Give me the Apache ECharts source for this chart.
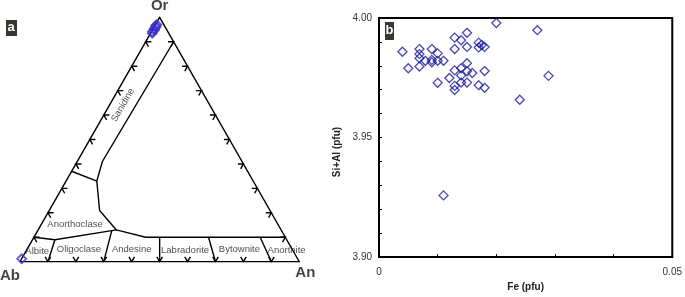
<!DOCTYPE html>
<html><head><meta charset="utf-8">
<script src="https://cdn.jsdelivr.net/npm/echarts@6/dist/echarts.min.js"></script>
<style>html,body{margin:0;padding:0;background:#fff}#c{width:685px;height:297px}</style>
</head><body><div id="c"></div>
<script>
// ---------- Panel a: feldspar ternary, points as [An %, Or %] ----------
const tickPercents = [10, 20, 30, 40, 50, 60, 70, 80, 90];
const triangleOutline = [[0, 0], [100, 0], [0, 100], [0, 0]];
const plagTopBoundary = [[0, 10], [8, 9], [26.5, 12.7], [28, 13], [40, 10], [90, 10]];
const sanidineBoundary = [[10, 90], [9, 41], [11, 33], [18, 21], [28, 13]];
const anorthoclaseSanidine = [[0, 37], [11, 33]];
const plagDividers = [
  [[8, 9], [10, 0]],
  [[26.5, 12.7], [30, 0]],
  [[45, 10], [50, 0]],
  [[62.5, 10], [70, 0]],
  [[81, 10], [90, 0]]
];
const fieldNames = ['Sanidine', 'Anorthoclase', 'Albite', 'Oligoclase', 'Andesine', 'Labradorite', 'Bytownite', 'Anorthite'];
const fieldPos = [[4.8, 64.1], [12, 15.4], [4.1, 4.1], [18.5, 5.2], [37.4, 5.2], [56.7, 4.8], [76, 5.1], [93.2, 4.5]];
const vertexNames = ['Ab', 'An', 'Or'];
const vertexPos = [[0, 0], [100, 0], [0, 100]];
const feldsparAn = [0.6, 0.3, 0.8, 0.4, 0.7, 0.3, 0.5, 0.0];
const feldsparOr = [93.5, 94.2, 94.8, 95.3, 95.9, 96.5, 97.0, 1.2];

// ---------- Panel b: Fe vs Si+Al ----------
const fe = [0.0040,0.0050,0.0069,0.0069,0.0069,0.0069,0.0079,0.0090,0.0090,0.0090,0.0100,0.0100,0.0110,0.0100,0.0120,0.0129,0.0140,0.0150,0.0129,0.0150,0.0129,0.0140,0.0150,0.0140,0.0150,0.0159,0.0129,0.0129,0.0140,0.0150,0.0170,0.0170,0.0180,0.0180,0.0170,0.0180,0.0200,0.0270,0.0289,0.0240,0.0110,0.0175];
const siAl = [3.9859,3.9790,3.9870,3.9849,3.9832,3.9797,3.9821,3.9870,3.9825,3.9815,3.9852,3.9821,3.9821,3.9729,3.9749,3.9918,3.9907,3.9938,3.9870,3.9879,3.9781,3.9790,3.9811,3.9760,3.9777,3.9770,3.9716,3.9699,3.9730,3.9730,3.9897,3.9877,3.9879,3.9778,3.9719,3.9708,3.9979,3.9949,3.9758,3.9658,3.9258,3.9887];

const FONT = 'Arial, "Liberation Sans", sans-serif';
const toXY = p => [(p[0] + p[1] / 2) / 100, p[1] / 100];

// tick chevrons
const d = 2;
const ticks = [];
tickPercents.forEach(p => {
  ticks.push([[p - d, d], [p, 0], [p, d]]);                 // bottom edge
  ticks.push([[d, p], [0, p], [d, p - d]]);                 // left edge
  ticks.push([[100 - p - d, p], [100 - p, p], [100 - p, p - d]]); // right edge
});
const polylines = [triangleOutline, plagTopBoundary, sanidineBoundary, anorthoclaseSanidine]
  .concat(plagDividers).concat(ticks);

const chart = echarts.init(document.getElementById('c'), null, {renderer: 'canvas'});
chart.setOption({
  animation: false,
  textStyle: {fontFamily: FONT},
  grid: [
    {left: 20, top: 17.3, width: 279.3, height: 244.4, show: false},
    {left: 379, top: 18, width: 295, height: 244, show: true, borderColor: '#000', borderWidth: 2, backgroundColor: 'transparent'}
  ],
  xAxis: [
    {gridIndex: 0, type: 'value', min: 0, max: 1, show: false},
    {gridIndex: 1, type: 'value', min: 0, max: 0.05, interval: 0.01,
     axisLine: {show: true, lineStyle: {color: '#000', width: 2}},
     axisTick: {show: true, inside: true, length: 3, lineStyle: {color: '#000', width: 1}},
     splitLine: {show: false},
     axisLabel: {color: '#333', fontSize: 10, margin: 10, fontFamily: FONT,
       formatter: v => (Math.abs(v) < 1e-9 ? '0' : (Math.abs(v - 0.05) < 1e-9 ? '0.05' : ''))},
     name: 'Fe (pfu)', nameLocation: 'middle', nameGap: 24,
     nameTextStyle: {fontWeight: 'bold', fontSize: 10, color: '#222', fontFamily: FONT}}
  ],
  yAxis: [
    {gridIndex: 0, type: 'value', min: 0, max: 1, show: false},
    {gridIndex: 1, type: 'value', min: 3.9, max: 4.0, interval: 0.01,
     axisLine: {show: true, lineStyle: {color: '#000', width: 2}},
     axisTick: {show: true, inside: true, length: 3, lineStyle: {color: '#000', width: 1}},
     splitLine: {show: false},
     axisLabel: {color: '#333', fontSize: 10, margin: 7, fontFamily: FONT,
       formatter: v => (Math.round(v * 100) % 5 === 0 ? v.toFixed(2) : '')}}
  ],
  graphic: [
    {type: 'rect', left: 6, top: 20, shape: {width: 11, height: 16}, style: {fill: '#3a3631'}, z: 10},
    {type: 'text', left: 7.5, top: 20.5, style: {text: 'a', fill: '#fff', font: 'bold 13px ' + FONT}, z: 11},
    {type: 'rect', left: 385, top: 22, shape: {width: 9, height: 18}, style: {fill: '#3a3631'}, z: 10},
    {type: 'text', left: 385.5, top: 23.5, style: {text: 'b', fill: '#fff', font: 'bold 13px ' + FONT}, z: 11},
    {type: 'text', x: 337, y: 152, rotation: Math.PI / 2,
     style: {text: 'Si+Al (pfu)', fill: '#222', font: 'bold 10px ' + FONT, align: 'center', verticalAlign: 'middle'}}
  ],
  series: [
    {type: 'lines', coordinateSystem: 'cartesian2d', xAxisIndex: 0, yAxisIndex: 0, polyline: true,
     silent: true, lineStyle: {color: '#000', width: 1.4, opacity: 1},
     data: polylines.map(pl => ({coords: pl.map(toXY)}))},
    {type: 'scatter', xAxisIndex: 0, yAxisIndex: 0, clip: false, symbolSize: 1,
     itemStyle: {color: 'rgba(0,0,0,0)'},
     label: {show: true, position: 'inside', formatter: '{b}', color: '#222', fontSize: 9.5, fontFamily: FONT},
     data: fieldNames.map((n, i) => ({name: n, value: toXY(fieldPos[i]),
       label: n === 'Sanidine' ? {rotate: 60} : {}}))},
    {type: 'scatter', xAxisIndex: 0, yAxisIndex: 0, clip: false, symbolSize: 1,
     itemStyle: {color: 'rgba(0,0,0,0)'},
     label: {show: true, position: 'inside', formatter: '{b}', color: '#111', fontSize: 15, fontWeight: 'bold', fontFamily: FONT},
     data: vertexNames.map((n, i) => ({name: n, value: toXY(vertexPos[i]),
       label: {offset: n === 'Ab' ? [-10, 14] : (n === 'An' ? [6, 11] : [0, -11])}}))},
    {type: 'scatter', xAxisIndex: 0, yAxisIndex: 0, clip: false, symbol: 'diamond', symbolSize: 9,
     itemStyle: {color: 'rgba(0,0,0,0)', borderColor: '#3b30c8', borderWidth: 1.8},
     data: feldsparAn.map((a, i) => toXY([a, feldsparOr[i]]))},
    {type: 'scatter', xAxisIndex: 1, yAxisIndex: 1, symbol: 'diamond', symbolSize: 9,
     itemStyle: {color: 'rgba(0,0,0,0)', borderColor: '#1c1c9c', borderWidth: 1.3},
     data: fe.map((x, i) => [x, siAl[i]])}
  ]
});
</script></body></html>
